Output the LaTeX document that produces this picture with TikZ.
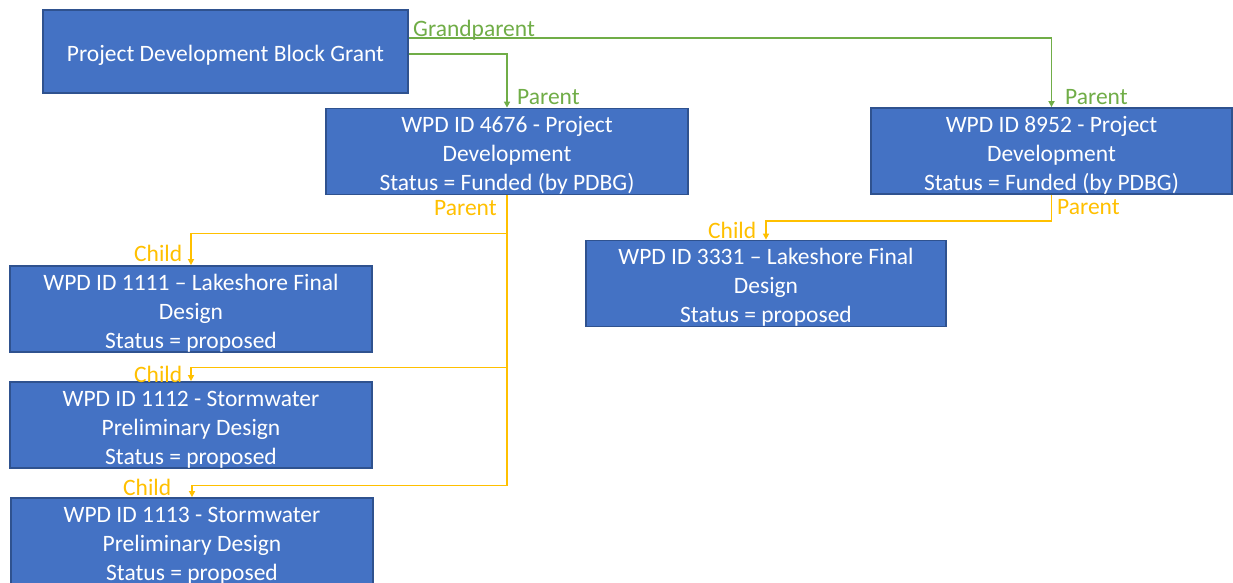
\documentclass[tikz,border=0pt]{standalone}
\usepackage{fontspec}
\setmainfont{Carlito}
\usetikzlibrary{arrows.meta}
\definecolor{boxblue}{HTML}{4472C4}
\definecolor{boxedge}{HTML}{2F528F}
\definecolor{lgreen}{HTML}{70AD47}
\definecolor{lorange}{HTML}{FFC000}
\newcommand{\topstrut}{\rule{0pt}{24.5pt}}
\begin{document}
\begin{tikzpicture}[x=1pt,y=-1pt,
  box/.style={draw=boxedge, line width=1.5pt, fill=boxblue, text=white, align=center,
    font=\fontsize{23.5}{29}\selectfont, inner sep=0pt},
  lbl/.style={inner sep=0pt, anchor=base west, font=\fontsize{23.5}{29}\selectfont},
  gline/.style={draw=lgreen, line width=1.5pt, -{Triangle[length=6pt,width=6pt]}},
  oline/.style={draw=lorange, line width=1.5pt, -{Triangle[length=6pt,width=6pt]}}
]
\useasboundingbox (0,0) rectangle (1233,583);
\fill[white] (0,0) rectangle (1233,583);

\node[box, minimum width=365pt, minimum height=83pt] (pdbg) at (225.5,51.5) {\topstrut Project Development Block Grant};
\node[box, minimum width=362pt, minimum height=83pt] (p4676) at (507,151.5) {\topstrut WPD ID 4676 - Project\\Development\\Status = Funded (by PDBG)};
\node[box, minimum width=361pt, minimum height=82pt] (p8952) at (1051.5,151) {\topstrut WPD ID 8952 - Project\\Development\\Status = Funded (by PDBG)};
\node[box, minimum width=362pt, minimum height=84pt] (c1111) at (191,309) {\topstrut WPD ID 1111 – Lakeshore Final\\Design\\Status = proposed};
\node[box, minimum width=362pt, minimum height=84pt] (c1112) at (191,425) {\topstrut WPD ID 1112 - Stormwater\\Preliminary Design\\Status = proposed};
\node[box, minimum width=362pt, minimum height=84pt] (c1113) at (192,541) {\topstrut WPD ID 1113 - Stormwater\\Preliminary Design\\Status = proposed};
\node[box, minimum width=360pt, minimum height=85pt] (c3331) at (766,283.5) {\topstrut WPD ID 3331 – Lakeshore Final\\Design\\Status = proposed};

% green connectors
\draw[gline] ([yshift=13.5pt]pdbg.east) -| (p8952.north);
\draw[gline] ([yshift=-2.5pt]pdbg.east) -| (p4676.north);
% orange connectors
\draw[oline] (p4676.south) -- ++(0,38) -| (c1111.north);
\draw[oline] (p4676.south) -- ++(0,172) -| (c1112.north);
\draw[oline] (p4676.south) -- ++(0,290) -| (c1113.north);
\draw[oline] (p8952.south) -- ++(0,26) -| (c3331.north);

% labels
\node[lbl, text=lgreen] (lgp) at (413,36.5) {Grandparent};
\node[lbl, text=lgreen] (lp1) at (517,105) {Parent};
\node[lbl, text=lgreen] (lp2) at (1065,105) {Parent};
\node[lbl, text=lorange] (lp3) at (434,215) {Parent};
\node[lbl, text=lorange] (lp4) at (1057,214) {Parent};
\node[lbl, text=lorange] (lc1) at (134,261) {Child};
\node[lbl, text=lorange] (lc2) at (134,382) {Child};
\node[lbl, text=lorange] (lc3) at (123,495) {Child};
\node[lbl, text=lorange] (lc4) at (708,238) {Child};
\end{tikzpicture}
\end{document}
